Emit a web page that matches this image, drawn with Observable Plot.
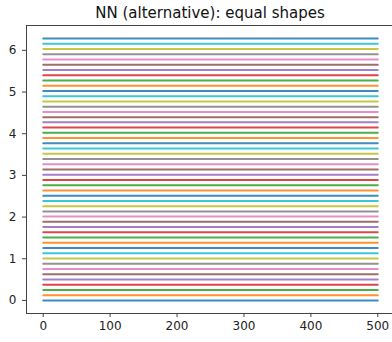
<!DOCTYPE html>
<html>
<head>
<meta charset="utf-8">
<script src="https://cdn.jsdelivr.net/npm/d3@7"></script>
<script src="https://cdn.jsdelivr.net/npm/@observablehq/plot@0.6"></script>
<style>
  html, body { margin: 0; padding: 0; background: white; }
  #title { width: 392px; height: 24px; box-sizing: border-box; padding-left: 28px; text-align: center;
    font-family: "DejaVu Sans", sans-serif; font-size: 15px; line-height: 26px; color: #111; white-space: nowrap; }
  #chart svg { display: block; }
</style>
</head>
<body>
<div id="title">NN (alternative): equal shapes</div>
<div id="chart"></div>
<script>
// Series offsets (one horizontal curve per value)
const offsets = [0, 0.126, 0.251, 0.377, 0.503, 0.628, 0.754, 0.880, 1.005, 1.131,
  1.257, 1.382, 1.508, 1.634, 1.759, 1.885, 2.011, 2.136, 2.262, 2.388,
  2.513, 2.639, 2.765, 2.890, 3.016, 3.142, 3.267, 3.393, 3.519, 3.644,
  3.770, 3.896, 4.021, 4.147, 4.273, 4.398, 4.524, 4.650, 4.775, 4.901,
  5.027, 5.152, 5.278, 5.404, 5.529, 5.655, 5.781, 5.906, 6.032, 6.158, 6.283];
// x positions of each curve
const xs = [0, 500];
// tick labels
const xTicks = [0, 100, 200, 300, 400, 500];
const yTicks = [0, 1, 2, 3, 4, 5, 6];
const palette = ["#1f77b4", "#ff7f0e", "#2ca02c", "#d62728", "#9467bd",
  "#8c564b", "#e377c2", "#7f7f7f", "#bcbd22", "#17becf"];

const xDomain = [-25, 522];
const yDomain = [-0.314, 6.597];

const data = [];
offsets.forEach((v, i) => xs.forEach(x => data.push({series: i, x, y: v})));

const spine = "#444";
const chart = Plot.plot({
  width: 392,
  height: 318,
  marginLeft: 26,
  marginRight: 0,
  marginTop: 1,
  marginBottom: 29,
  style: {fontFamily: "DejaVu Sans, sans-serif", fontSize: "12px", color: "#222", background: "white"},
  x: {domain: xDomain},
  y: {domain: yDomain},
  marks: [
    Plot.line(data, {x: "x", y: "y", z: "series", stroke: d => palette[d.series % 10], strokeWidth: 2, strokeOpacity: 0.85}),
    Plot.ruleX([xDomain[0]], {stroke: spine, strokeWidth: 1}),
    Plot.ruleY([yDomain[0]], {stroke: spine, strokeWidth: 1}),
    Plot.ruleY([yDomain[1]], {stroke: spine, strokeWidth: 1}),
    Plot.axisX({ticks: xTicks, tickFormat: "d", tickSize: 4, tickPadding: 4, label: null, stroke: spine, fontSize: 12}),
    Plot.axisY({ticks: yTicks, tickFormat: "d", tickSize: 4, tickPadding: 6, label: null, stroke: spine, fontSize: 12})
  ]
});
document.getElementById("chart").appendChild(chart);
</script>
</body>
</html>
